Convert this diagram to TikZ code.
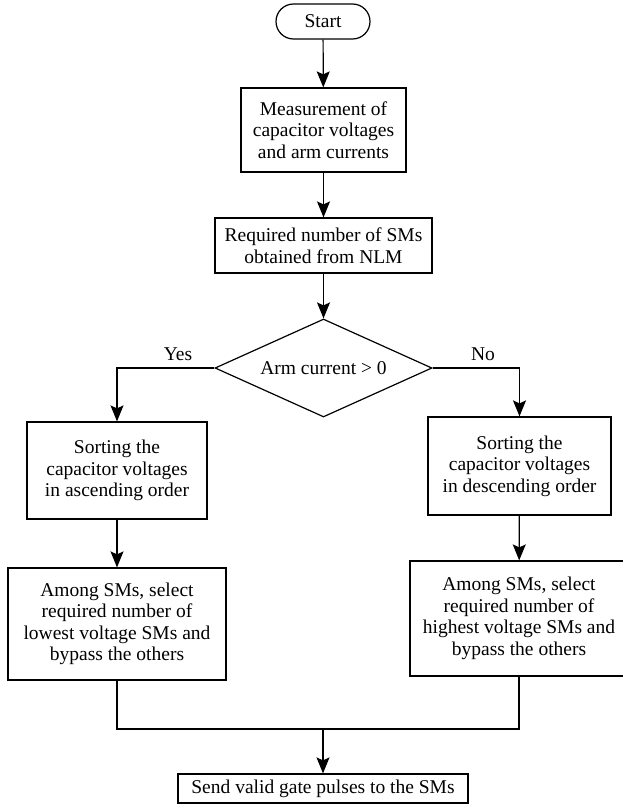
\documentclass[tikz,border=0pt]{standalone}
\usepackage{fontspec}
\setmainfont{Liberation Serif}
\usetikzlibrary{shapes.geometric,shapes.misc,arrows.meta}
\begin{document}
\begin{tikzpicture}[x=1bp,y=-1bp,
  every node/.style={font=\fontsize{19.5bp}{21.5bp}\selectfont, inner sep=0pt, align=center},
  box/.style={draw, line width=1.2bp, rectangle},
  term/.style={draw, line width=1.2bp, rounded rectangle, minimum width=94bp, minimum height=35bp},
  decide/.style={draw, line width=1.2bp, diamond, shape aspect=2.2, minimum width=217bp, minimum height=98bp},
  conn/.style={line width=1.2bp},
  arr/.style={conn, -{Stealth[length=16bp,width=13bp,inset=3bp]}},
  lbl/.style={}
]
\clip (0,0) rectangle (623,805);
\node[term] (start) at (323,21.5) {Start};
\node[box, minimum width=165bp, minimum height=84bp] (m1) at (323.5,130) {Measurement of\\capacitor voltages\\and arm currents};
\node[box, minimum width=217bp, minimum height=55bp] (m2) at (323.5,245.5) {Required number of SMs\\obtained from NLM};
\node[decide] (dec) at (323.5,368) {Arm current > 0};
\node[box, minimum width=180bp, minimum height=97bp] (l1) at (117,470.5) {Sorting the\\capacitor voltages\\in ascending order};
\node[box, minimum width=183bp, minimum height=98bp] (r1) at (519.5,466) {Sorting the\\capacitor voltages\\in descending order};
\node[box, minimum width=218bp, minimum height=112bp] (l2) at (117,624) {Among SMs, select\\required number of\\lowest voltage SMs and\\bypass the others};
\node[box, minimum width=218bp, minimum height=115bp] (r2) at (519,618.5) {Among SMs, select\\required number of\\highest voltage SMs and\\bypass the others};
\node[box, minimum width=290bp, minimum height=29bp] (end) at (323,788.5) {Send valid gate pulses to the SMs};
\node[lbl] (yes) at (178,354) {Yes};
\node[lbl] (no) at (483,354) {No};
\coordinate (j) at (323,729);
\draw[arr] (start) -- (m1);
\draw[arr] (m1) -- (m2);
\draw[arr] (m2) -- (dec);
\draw[arr] (dec.west) -| (l1.north);
\draw[arr] (dec.east) -| (r1.north);
\draw[arr] (l1) -- (l2);
\draw[arr] (r1) -- (r2);
\draw[conn] (l2.south) |- (j) -| (r2.south);
\draw[arr] (j) -- (end);
\end{tikzpicture}
\end{document}
